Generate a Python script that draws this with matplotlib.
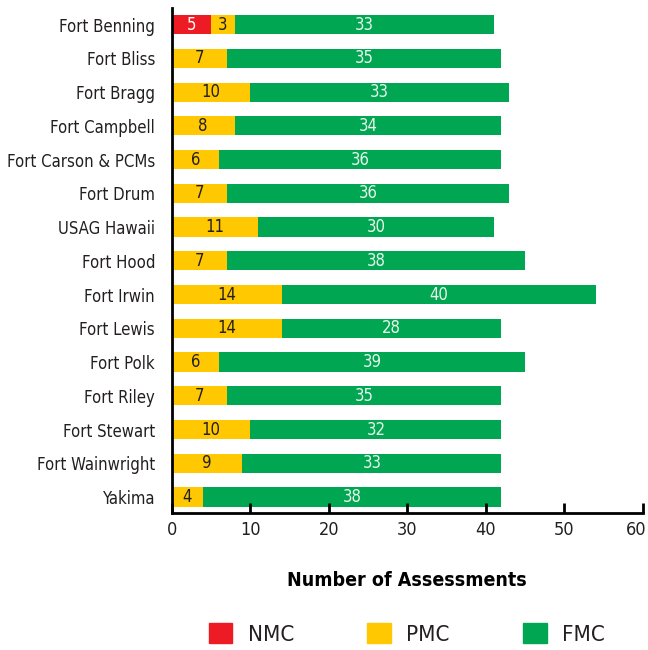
import numpy as np
import matplotlib
matplotlib.use("Agg")
import matplotlib.pyplot as plt
from matplotlib.patches import Patch
from matplotlib.transforms import ScaledTranslation

plt.rcParams['font.family'] = ['DejaVu Sans']
plt.rcParams['font.stretch'] = 'condensed'

# данные
sites = ["Fort Benning", "Fort Bliss", "Fort Bragg", "Fort Campbell",
         "Fort Carson & PCMs", "Fort Drum", "USAG Hawaii", "Fort Hood",
         "Fort Irwin", "Fort Lewis", "Fort Polk", "Fort Riley",
         "Fort Stewart", "Fort Wainwright", "Yakima"]
nmc = [5, 0, 0, 0, 0, 0, 0, 0, 0, 0, 0, 0, 0, 0, 0]
pmc = [3, 7, 10, 8, 6, 7, 11, 7, 14, 14, 6, 7, 10, 9, 4]
fmc = [33, 35, 33, 34, 36, 36, 30, 38, 40, 28, 39, 35, 32, 33, 38]

c_nmc = '#ed1c24'
c_pmc = '#ffc800'
c_fmc = '#00a651'

fig = plt.figure(figsize=(6.48, 6.5), dpi=100)
ax = fig.add_axes([0.265, 0.211, 0.727, 0.777])

y = np.arange(len(sites))
nmc = np.array(nmc)
pmc = np.array(pmc)
fmc = np.array(fmc)
h = 0.57

ax.barh(y, nmc, height=h, color=c_nmc)
ax.barh(y, pmc, height=h, left=nmc, color=c_pmc)
ax.barh(y, fmc, height=h, left=nmc + pmc, color=c_fmc)

# подписи
for i in range(len(sites)):
    if nmc[i] > 0:
        ax.text(nmc[i] / 2, y[i], str(nmc[i]), ha='center', va='center',
                color='white', fontsize=12)
    ax.text(nmc[i] + pmc[i] / 2, y[i], str(pmc[i]), ha='center', va='center',
            color='#231f20', fontsize=12)
    ax.text(nmc[i] + pmc[i] + fmc[i] / 2, y[i], str(fmc[i]), ha='center',
            va='center', color='#e8f5ec', fontsize=12)

ax.set_yticks(y)
ax.set_yticklabels(sites, fontsize=12, color='#231f20')
ax.set_ylim(14.47, -0.5)
ax.set_xlim(0, 60)
ax.set_xticks(range(0, 61, 10))
ax.tick_params(axis='x', direction='in', length=7, width=2, labelsize=13,
               pad=6, labelcolor='#231f20')
ax.tick_params(axis='y', length=0, pad=12)

# последнюю подпись чуть левее, чтобы не обрезалась
lab = ax.get_xticklabels()[-1]
lab.set_transform(lab.get_transform() + ScaledTranslation(-5 / 72, 0, fig.dpi_scale_trans))

ax.spines['top'].set_visible(False)
ax.spines['right'].set_visible(False)
ax.spines['left'].set_linewidth(2)
ax.spines['bottom'].set_linewidth(2)

ax.set_xlabel("Number of Assessments", fontsize=14, fontweight='bold',
              labelpad=23)

handles = [Patch(color=c_nmc, label='NMC'),
           Patch(color=c_pmc, label='PMC'),
           Patch(color=c_fmc, label='FMC')]
fig.legend(handles=handles, loc='center', bbox_to_anchor=(0.628, 0.025),
           ncol=3, frameon=False, fontsize=16, handlelength=1.05,
           handleheight=1.05, columnspacing=3.3, handletextpad=0.7,
           labelcolor='#231f20')

fig.savefig("out.png", dpi=100)
